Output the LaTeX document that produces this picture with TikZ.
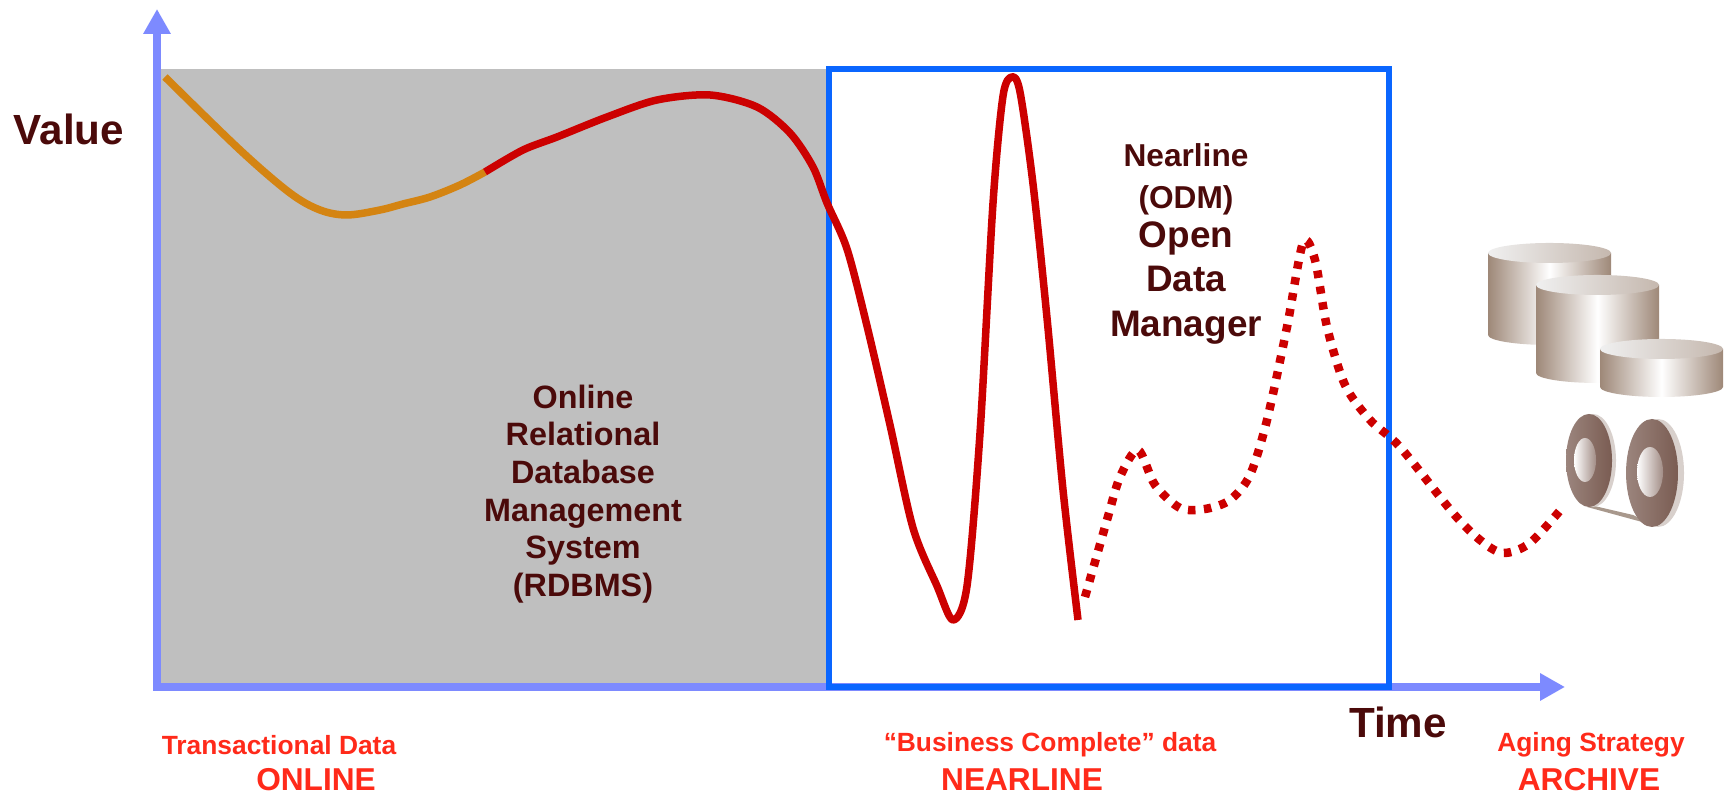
\documentclass[tikz,border=0pt]{standalone}
\usepackage{fontspec}
\setmainfont{Liberation Sans}
\usetikzlibrary{arrows.meta}
\definecolor{axisblue}{RGB}{125,138,255}
\definecolor{boxblue}{RGB}{10,102,255}
\definecolor{onlinegray}{RGB}{191,191,191}
\definecolor{curvered}{RGB}{204,0,0}
\definecolor{curveorange}{RGB}{212,132,18}
\definecolor{textmaroon}{RGB}{75,10,10}
\definecolor{tagred}{RGB}{255,42,26}
\definecolor{diskbrown}{RGB}{158,136,120}
\definecolor{reelbrown}{RGB}{122,92,82}
\definecolor{rimgray}{RGB}{216,208,204}
\definecolor{tapegray}{RGB}{168,152,140}
\begin{document}
\begin{tikzpicture}[
    axisline/.style={draw=axisblue, line width=0.085cm, line cap=rect,
      -{Triangle[width=0.26cm,length=0.25cm]}},
    valuecurve/.style={line width=0.075cm, line join=round},
    axisname/.style={text=textmaroon, font=\bfseries\fontsize{12}{14}\selectfont},
    boxtext/.style={text=textmaroon, align=center, font=\bfseries\fontsize{9.2}{10.7}\selectfont},
    tag/.style={text=tagred, font=\bfseries\fontsize{7.5}{9}\selectfont},
    tagbig/.style={text=tagred, font=\bfseries\fontsize{9}{11}\selectfont},
  ]
  \useasboundingbox (0,0) rectangle (17.3,7.95);

  % online area and nearline box
  \fill [onlinegray] (1.61,1.12) rectangle (8.29,7.26);
  \coordinate (origin) at (1.57,1.08);
  \coordinate (ytop) at (1.57,7.86);
  \coordinate (xend) at (15.65,1.08);
  \draw [axisline] (origin) -- (ytop);
  \draw [axisline] (origin) -- (xend);
  \draw [boxblue, line width=0.06cm] (8.29,1.08) rectangle (13.89,7.255);

  % value over time
  \draw [valuecurve, curveorange] plot [smooth, tension=0.55] coordinates {
    (1.65,7.18) (2.40,6.45) (2.90,6.02) (3.20,5.85) (3.47,5.80) (3.80,5.85)
    (4.03,5.91) (4.30,5.98) (4.60,6.10) (4.85,6.23)};
  \draw [valuecurve, curvered] plot [smooth, tension=0.5] coordinates {
    (4.85,6.23) (5.23,6.45) (5.57,6.58) (6.07,6.78) (6.57,6.95) (7.10,7.00)
    (7.57,6.88) (7.90,6.62) (8.13,6.28) (8.27,5.92) (8.47,5.46) (8.67,4.69)
    (8.90,3.70) (9.13,2.67) (9.37,2.09) (9.53,1.75) (9.67,2.09) (9.80,3.62)
    (9.93,5.92) (10.03,6.99) (10.12,7.18) (10.20,7.03) (10.33,6.11)
    (10.47,4.77) (10.63,3.05) (10.78,1.75)};
  \draw [valuecurve, curvered, line width=0.085cm, dash pattern=on 0.075cm off 0.085cm]
    plot [smooth, tension=0.5] coordinates {
    (10.85,1.98) (11.07,2.75) (11.20,3.18) (11.38,3.45) (11.55,3.10) (11.80,2.87)
    (12.05,2.86) (12.30,2.95) (12.50,3.20) (12.67,3.75) (12.87,4.68) (13.03,5.52)
    (13.15,5.35) (13.27,4.68) (13.45,4.10) (13.70,3.75) (14.00,3.48) (14.53,2.82)
    (14.80,2.55) (15.03,2.42) (15.30,2.52) (15.63,2.88)};

  % disk stack
  \shade [left color=diskbrown, right color=diskbrown, middle color=white]
    (14.88,5.42) -- (14.88,4.60) arc [start angle=180, end angle=360, x radius=0.615, y radius=0.1] -- (16.11,5.42) -- cycle;
  \shade [left color=gray!12, right color=diskbrown!60] (15.495,5.42) ellipse [x radius=0.615, y radius=0.1];
  \shade [left color=diskbrown, right color=diskbrown, middle color=white]
    (15.36,5.10) -- (15.36,4.22) arc [start angle=180, end angle=360, x radius=0.615, y radius=0.1] -- (16.59,5.10) -- cycle;
  \shade [left color=gray!12, right color=diskbrown!60] (15.975,5.10) ellipse [x radius=0.615, y radius=0.1];
  \shade [left color=diskbrown, right color=diskbrown, middle color=white]
    (16.00,4.46) -- (16.00,4.08) arc [start angle=180, end angle=360, x radius=0.615, y radius=0.1] -- (17.23,4.46) -- cycle;
  \shade [left color=gray!12, right color=diskbrown!60] (16.615,4.46) ellipse [x radius=0.615, y radius=0.1];

  % tape reels
  \fill [tapegray] (15.90,2.90) -- (16.33,2.80) -- (16.53,2.70) -- (15.87,2.88) -- cycle;
  \fill [rimgray] (15.93,3.345) ellipse [x radius=0.23, y radius=0.465];
  \shade [left color=reelbrown!75!white, right color=reelbrown] (15.89,3.345) ellipse [x radius=0.23, y radius=0.465];
  \shade [left color=white, right color=reelbrown!70] (15.85,3.35) ellipse [x radius=0.11, y radius=0.22];
  \fill [rimgray] (16.58,3.22) ellipse [x radius=0.26, y radius=0.54];
  \shade [left color=reelbrown!75!white, right color=reelbrown] (16.52,3.22) ellipse [x radius=0.26, y radius=0.54];
  \shade [left color=white, right color=reelbrown!70] (16.50,3.23) ellipse [x radius=0.13, y radius=0.25];

  % texts
  \node [axisname] (value) at (0.69,6.66) {Value};
  \node [axisname] (time) at (13.98,0.73) {Time};
  \node [boxtext] (rdbms) at (5.83,3.01) {Online\\Relational\\Database\\Management\\System\\(RDBMS)};
  \node [boxtext, font=\bfseries\fontsize{9}{12}\selectfont] (nearline) at (11.86,6.16) {Nearline\\(ODM)};
  \node [boxtext, font=\bfseries\fontsize{10.5}{12.7}\selectfont] (odm) at (11.86,5.12) {Open\\Data\\Manager};
  \node [tag] (transactional) at (2.79,0.50) {Transactional Data};
  \node [tagbig] (online) at (3.16,0.15) {ONLINE};
  \node [tag] (business) at (10.50,0.50) {“Business Complete” data};
  \node [tagbig] (nearlinetag) at (10.22,0.15) {NEARLINE};
  \node [tag] (aging) at (15.91,0.50) {Aging Strategy};
  \node [tagbig] (archive) at (15.89,0.15) {ARCHIVE};
\end{tikzpicture}
\end{document}
